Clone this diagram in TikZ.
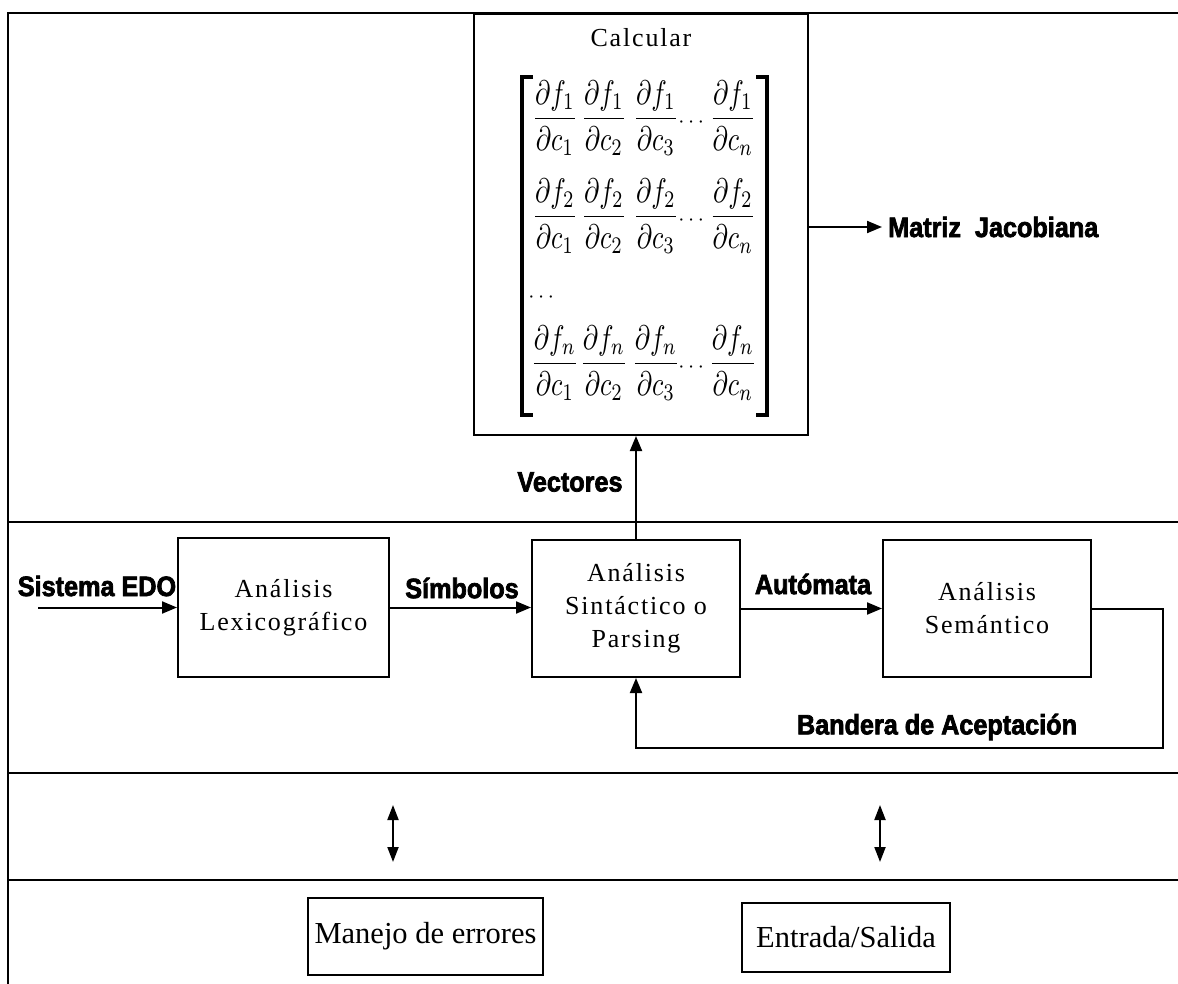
\documentclass[tikz,border=0pt]{standalone}
\usepackage{amsmath}
\usepackage{graphicx}
\usepackage{fontspec}
\setmainfont{Liberation Serif}
\newfontfamily\boxfont[LetterSpace=7]{Liberation Serif}
\newfontfamily\tagfont[FakeStretch=0.9,FakeBold=2.5]{Liberation Sans}
\usetikzlibrary{arrows.meta}
\newcommand{\jacfrac}[2]{\scalebox{2.6}[3.4]{$\dfrac{\partial f_{#1}}{\partial c_{#2}}$}}
\newcommand{\jacdots}{\scalebox{2.2}{$\cdots$}}

\begin{document}
\begin{tikzpicture}[x=1pt,y=-1pt,
  sepline/.style={line width=2pt},
  stagebox/.style={draw, line width=2pt, align=center, inner sep=0pt,
    font=\fontsize{26}{33}\selectfont\boxfont},
  servicebox/.style={draw, line width=2pt, inner sep=0pt,
    font=\fontsize{30.5}{35}\selectfont},
  flowtag/.style={font=\fontsize{28}{30}\selectfont\tagfont\bfseries, inner sep=0pt},
  flow/.style={line width=2pt, -{Triangle[length=15pt,width=12pt]}},
  twoway/.style={line width=2pt,
    {Triangle[length=15pt,width=11pt]}-{Triangle[length=15pt,width=11pt]}},
  fracnode/.style={inner sep=0pt},
  bracket/.style={line width=3.2pt}
]
\useasboundingbox (0,0) rectangle (1178,984);

% layer separators
\draw[sepline] (8,984) -- (8,13) -- (1178,13);
\foreach \yy in {522,773,880} \draw[sepline] (8,\yy) -- (1178,\yy);

% Jacobian block
\node[draw, line width=2pt, minimum width=334pt, minimum height=421pt, inner sep=0pt]
  (calc) at (641,224.5) {};
\node[font=\fontsize{26}{30}\selectfont\boxfont, inner sep=0pt] (calctitle) at (641,38) {Calcular};
\draw[bracket] (533,77) -- (522,77) -- (522,415) -- (533,415);
\draw[bracket] (756,77) -- (767,77) -- (767,415) -- (756,415);
\foreach \r/\yy in {1/118,2/216,n/363}{
  \foreach \c/\xx in {1/555,2/604,3/656,n/733}
    \node[fracnode] (j-\r-\c) at (\xx,\yy) {\jacfrac{\r}{\c}};
  \node[fracnode] (dots-\r) at (693,\yy+5) {\jacdots};
}
\node[fracnode] (vdots) at (543,298) {\jacdots};

% analysis stages
\node[stagebox, minimum width=211pt, minimum height=139pt] (lex) at (283.5,607.5)
  {Análisis\\Lexicográfico};
\node[stagebox, minimum width=208pt, minimum height=137pt] (parse) at (636,608.5)
  {Análisis\\Sintáctico o\\Parsing};
\node[stagebox, minimum width=208pt, minimum height=137pt] (sem) at (987,608.5)
  {Análisis\\Semántico};

% services
\node[servicebox, minimum width=235pt, minimum height=77pt] (err) at (425.5,936.5)
  {Manejo de errores};
\node[servicebox, minimum width=208pt, minimum height=69pt] (io) at (846,937.5)
  {Entrada/Salida};

% labels
\node[flowtag] (tEDO) at (97,586) {Sistema EDO};
\node[flowtag] (tSym) at (462,588) {Símbolos};
\node[flowtag] (tAut) at (813,584) {Autómata};
\node[flowtag] (tVec) at (570,482) {Vectores};
\node[flowtag] (tBan) at (937,727) {Bandera de Aceptación};
\node[flowtag, anchor=west, inner sep=6pt] (tMJ) at (882,227) {Matriz\ \ Jacobiana};

% connectors
\coordinate (src) at (38,607.5);
\draw[flow] (src) -- (lex.west);
\draw[flow] (lex.east) -- (lex.east -| parse.west);
\draw[flow] (parse.east) -- (sem.west);
\draw[flow] (parse.north) -- (parse.north |- calc.south);
\draw[flow] (calc.east |- tMJ.west) -- (tMJ.west);
\coordinate (loop) at (1163,748);
\draw[flow] (sem.east) -| (loop) -| (parse.south);

\coordinate (e1) at (393,805);
\coordinate (e2) at (393,862);
\coordinate (s1) at (880,805);
\coordinate (s2) at (880,862);
\draw[twoway] (e1) -- (e2);
\draw[twoway] (s1) -- (s2);
\end{tikzpicture}
\end{document}
